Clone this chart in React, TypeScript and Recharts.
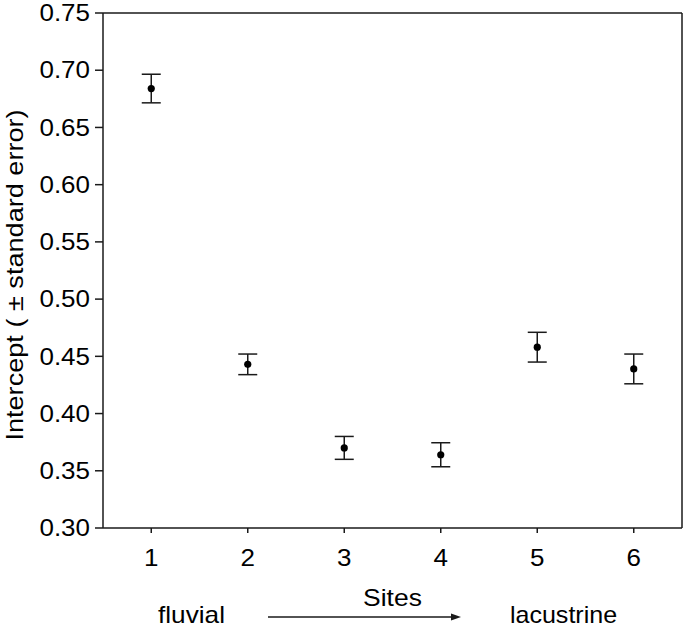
import React from "react";
import {
  ErrorBar,
  ReferenceLine,
  Scatter,
  ScatterChart,
  XAxis,
  YAxis
} from "recharts";

const sites = [1, 2, 3, 4, 5, 6];
const intercepts = [0.684, 0.443, 0.37, 0.364, 0.458, 0.439];
const stdErrors = [0.0125, 0.009, 0.01, 0.0105, 0.013, 0.013];
const yTicks = [0.3, 0.35, 0.4, 0.45, 0.5, 0.55, 0.6, 0.65, 0.7, 0.75];

const data = sites.map((s, i) => ({ site: s, value: intercepts[i], err: stdErrors[i] }));

const FONT = "'Liberation Sans', Arial, sans-serif";
const STRETCH = 1.13;
const INK = "#1a1a1a";

const XTick = (props: any) => {
  const { x, y, payload } = props;
  return (
    <text
      transform={`translate(${x},${y}) scale(${STRETCH},1)`}
      textAnchor="middle"
      dy="0.71em"
      fontSize={23}
      fontFamily={FONT}
      fill="#000"
    >
      {payload.value}
    </text>
  );
};

const YTick = (props: any) => {
  const { x, y, payload } = props;
  return (
    <text
      transform={`translate(${x},${y}) scale(${STRETCH},1)`}
      textAnchor="end"
      dy="0.355em"
      fontSize={23}
      fontFamily={FONT}
      fill="#000"
    >
      {Number(payload.value).toFixed(2)}
    </text>
  );
};

const Dot = (props: any) => <circle cx={props.cx} cy={props.cy} r={3.6} fill="#000" />;

export default function App() {
  return (
    <div style={{ position: "absolute", left: 0, top: 0, width: 685, height: 627, background: "#fff" }}>
      <ScatterChart width={685} height={627} margin={{ top: 13, right: 3, left: 13, bottom: 0 }}>
        <XAxis
          type="number"
          dataKey="site"
          domain={[0.5, 6.5]}
          ticks={sites}
          tick={<XTick />}
          tickSize={5}
          tickMargin={17}
          height={99}
          axisLine={{ stroke: INK, strokeWidth: 1.5 }}
          tickLine={{ stroke: INK, strokeWidth: 1.5 }}
        />
        <YAxis
          type="number"
          dataKey="value"
          domain={[0.3, 0.75]}
          ticks={yTicks}
          tick={<YTick />}
          tickSize={8}
          tickMargin={5}
          width={90}
          axisLine={{ stroke: INK, strokeWidth: 1.5 }}
          tickLine={{ stroke: INK, strokeWidth: 1.5 }}
        />
        <ReferenceLine y={0.75} stroke={INK} strokeWidth={1.5} />
        <ReferenceLine x={6.5} stroke={INK} strokeWidth={1.5} />
        <Scatter data={data} shape={Dot} isAnimationActive={false}>
          <ErrorBar dataKey="err" direction="y" width={9.5} stroke={INK} strokeWidth={1.5} isAnimationActive={false} />
        </Scatter>
      </ScatterChart>
      <svg
        width={685}
        height={627}
        style={{ position: "absolute", left: 0, top: 0, pointerEvents: "none" }}
        fontFamily={FONT}
      >
        <text
          transform={`translate(15,275) rotate(-90) scale(1.13,1)`}
          textAnchor="middle"
          dominantBaseline="central"
          fontSize={24}
          fill="#000"
        >
          Intercept ( ± standard error)
        </text>
        <text transform={`translate(392.5,606) scale(1.15,1)`} textAnchor="middle" fontSize={23} fill="#000">
          Sites
        </text>
        <text transform={`translate(191.5,623) scale(1.14,1)`} textAnchor="middle" fontSize={23} fill="#000">
          fluvial
        </text>
        <text transform={`translate(563.5,623) scale(1.09,1)`} textAnchor="middle" fontSize={23} fill="#000">
          lacustrine
        </text>
        <line x1={268} y1={617} x2={453} y2={617} stroke={INK} strokeWidth={1.5} />
        <polygon points="461,617 451,613.5 451,620.5" fill={INK} />
      </svg>
    </div>
  );
}
